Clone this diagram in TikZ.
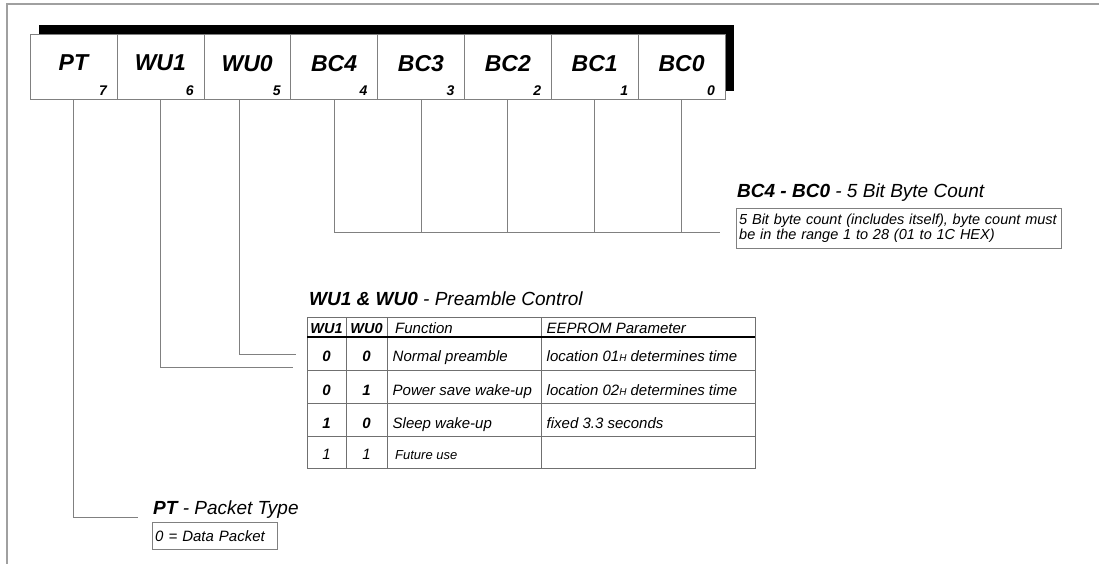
\documentclass[tikz,border=0pt]{standalone}
\usepackage{fontspec}
\setmainfont{Liberation Sans}
\usetikzlibrary{positioning,calc,backgrounds}
\definecolor{leadgray}{HTML}{808080}
\definecolor{framegray}{HTML}{A0A0A0}
\definecolor{rulegray}{HTML}{707070}
\newcommand{\hexsub}{{\fontsize{10}{10}\selectfont H}}

\tikzset{
  bitcell/.style={draw=leadgray, fill=white, minimum width=86.875pt, minimum height=65pt, inner sep=0pt, text depth=7pt, font=\fontsize{23}{26}\selectfont\bfseries\itshape},
  bitnum/.style={anchor=base east, inner sep=0pt, font=\fontsize{14}{15}\selectfont\bfseries\itshape},
  lead/.style={draw=leadgray, line width=0.8pt},
  fieldtitle/.style={anchor=base west, inner sep=0pt, font=\fontsize{19}{22}\selectfont\itshape},
  infobox/.style={draw=leadgray, anchor=north west, inner xsep=3pt, inner ysep=3pt, align=left, font=\fontsize{14.5}{15}\selectfont\itshape},
  tabtxt/.style={anchor=base, inner sep=0pt, font=\fontsize{15}{18}\selectfont\itshape},
}

\begin{document}
\begin{tikzpicture}[x=1pt,y=-1pt]
\useasboundingbox (0,0) rectangle (1099,564);
% frame
\draw[framegray, line width=1.5pt] (1099,4) -- (7,4) -- (7,564);

% register bits
\foreach \nm/\bit [count=\i from 0] in {PT/7,WU1/6,WU0/5,BC4/4,BC3/3,BC2/2,BC1/1,BC0/0}{
  \node[bitcell] (b\bit) at (73.44+86.875*\i,66.5) {\nm};
  \node[bitnum] (n\bit) at ([xshift=-10pt,yshift=4pt]b\bit.south east) {\bit};
}
\begin{scope}[on background layer]
  \fill[black] ($(b7.north west)+(8.7,-9)$) rectangle ($(b0.south east)+(9,-8.3)$);
\end{scope}

% byte count
\coordinate (bcend) at (720,232);
\foreach \bit in {4,3,2,1,0}
  \draw[lead] (b\bit.south) -- (b\bit.south |- bcend);
\draw[lead] (b4.south |- bcend) -- (bcend);
\node[fieldtitle] (bctitle) at (737,197) {{\bfseries BC4 - BC0} - 5 Bit Byte Count};
\node[infobox, text width=319pt, minimum height=39.5pt] (bcbox) at (736,208)
  {5 Bit byte count (includes itself), byte count must\\be in the range 1 to 28 (01 to 1C HEX)};

% preamble control
\coordinate (wu0end) at (296,354);
\coordinate (wu1end) at (293,367);
\draw[lead] ([xshift=-8pt]b5.south) |- (wu0end);
\draw[lead] (b6.south) |- (wu1end);
\node[fieldtitle] (wutitle) at (309,305) {{\bfseries WU1 \& WU0} - Preamble Control};
\draw[rulegray] (307,317) rectangle (755,468);
\foreach \xx in {346,387,541}
  \draw[rulegray] (\xx,317) -- (\xx,468);
\foreach \yy in {370,403,436}
  \draw[rulegray] (307,\yy) -- (755,\yy);
\draw[black, line width=1.6pt] (307,337) -- (755,337);
\node[tabtxt, font=\fontsize{14.5}{18}\selectfont\bfseries\itshape] (hwa) at (326.5,333) {WU1};
\node[tabtxt, font=\fontsize{14.5}{18}\selectfont\bfseries\itshape] (hwb) at (366.5,333) {WU0};
\node[tabtxt, anchor=base west] (hfn) at (395,333) {Function};
\node[tabtxt, anchor=base west] (hee) at (546.5,333) {EEPROM Parameter};
\foreach \wa/\wb/\fn/\ee/\yb [count=\r] in {%
    0/0/Normal preamble/location 01\hexsub\ determines time/361,%
    0/1/Power save wake-up/location 02\hexsub\ determines time/395,%
    1/0/Sleep wake-up/fixed 3.3 seconds/428%
}{
  \node[tabtxt, font=\fontsize{15}{18}\selectfont\bfseries\itshape] (wa\r) at (326.5,\yb) {\wa};
  \node[tabtxt, font=\fontsize{15}{18}\selectfont\bfseries\itshape] (wb\r) at (366.5,\yb) {\wb};
  \node[tabtxt, anchor=base west] (fn\r) at (392.5,\yb) {\fn};
  \node[tabtxt, anchor=base west] (ee\r) at (546.5,\yb) {\ee};
}
\node[tabtxt] (wa4) at (326.5,459.5) {1};
\node[tabtxt] (wb4) at (366.5,459.5) {1};
\node[tabtxt, anchor=base west, font=\fontsize{13}{15}\selectfont\itshape] (fn4) at (395,459.5) {Future use};

% packet type
\coordinate (ptend) at (138,517);
\draw[lead] (b7.south) |- (ptend);
\node[fieldtitle] (pttitle) at (153,514) {{\bfseries PT} - Packet Type};
\node[infobox, text width=119pt, minimum height=27pt, font=\fontsize{15}{15}\selectfont\itshape] (ptbox) at (152,522) {0 = Data Packet};
\end{tikzpicture}
\end{document}
